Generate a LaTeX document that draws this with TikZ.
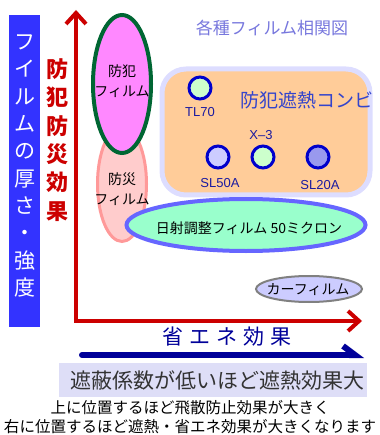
\documentclass[tikz,border=0pt]{standalone}
\usepackage{fontspec}
\setmainfont{Noto Sans CJK JP}
\newfontfamily\latinfont{Liberation Sans}
\usetikzlibrary{positioning}
\usetikzlibrary{arrows.meta, shapes.geometric}

\definecolor{axisred}{HTML}{CC0000}
\definecolor{thickblue}{HTML}{3333FF}
\definecolor{navyarrow}{HTML}{000099}
\definecolor{dotblue}{HTML}{0000CC}
\definecolor{labelblue}{HTML}{1A1AA0}
\definecolor{titleblue}{HTML}{7777DD}
\definecolor{combiblue}{HTML}{3344CC}
\definecolor{peach}{HTML}{FFCC99}
\definecolor{lavender}{HTML}{DDDDFF}
\definecolor{magentafill}{HTML}{FF88FF}
\definecolor{darkgreen}{HTML}{006633}
\definecolor{pinkfill}{HTML}{FFCCCC}
\definecolor{pinkline}{HTML}{FF9999}
\definecolor{mint}{HTML}{99FFCC}
\definecolor{mintline}{HTML}{6666FF}
\definecolor{carfill}{HTML}{CCCCFF}
\definecolor{noteback}{HTML}{DEDEF7}
\definecolor{lightdot}{HTML}{CCFFCC}
\definecolor{darkdot}{HTML}{9999EE}

\tikzset{
  dot/.style={circle, draw=dotblue, line width=3pt, minimum size=22pt, inner sep=0pt},
  dotlabel/.style={font=\latinfont\fontsize{13}{13}\selectfont, text=labelblue, inner sep=0pt},
  filmtext/.style={font=\fontsize{14}{20}\selectfont, align=center, inner sep=0pt},
}

\begin{document}
\begin{tikzpicture}[x=1pt, y=-1pt]
       \useasboundingbox (0,0) rectangle (379,435);

       % left side bar
       \fill[thickblue] (9,15) rectangle (40,327);
       \node[text=white, align=center, font=\fontsize{21}{27.3}\selectfont, inner sep=0pt] (thickness) at (24.5,166)
              {フ\\イ\\ル\\ム\\の\\厚\\さ\\・\\強\\度};

       % axes
       \coordinate (origin) at (76,321);
       \coordinate (ytip) at (76,10);
       \coordinate (xtip) at (362,321);
       \draw[axisred, line width=4pt, line join=miter,
              {Straight Barb[length=11pt, width=20pt, line width=4pt]}-{Straight Barb[length=11pt, width=20pt, line width=4pt]}]
              (ytip) -- (origin) -- (xtip);
       \node[text=axisred, align=center, font=\bfseries\fontsize{22}{28.3}\selectfont, inner sep=0pt] (safety) at (57,140)
              {防\\犯\\防\\災\\効\\果};

       % title
       \node[text=titleblue, font=\fontsize{17}{17}\selectfont, inner sep=0pt] (title) at (272,28) {各種フィルム相関図};

       % combi group
       \draw[fill=peach, draw=lavender, line width=5pt, rounded corners=24pt] (162,69) rectangle (370,195);
       \node[anchor=west, text=combiblue, font=\fontsize{19}{19}\selectfont, inner sep=0pt] (combi) at (240,100) {防犯遮熱コンビ};

       \node[dot, fill=lightdot] (tl70) at (200,88) {};
       \node[dotlabel] (tl70label) at (200,112) {TL70};
       \node[dot, fill=carfill] (sl50a) at (218,157) {};
       \node[dotlabel] (sl50alabel) at (220,183) {SL50A};
       \node[dot, fill=lightdot] (x3) at (263,157) {};
       \node[dotlabel] (x3label) at (261,135) {X–3};
       \node[dot, fill=darkdot] (sl20a) at (318,157) {};
       \node[dotlabel] (sl20alabel) at (320,185) {SL20A};

       % films
       \node[ellipse, draw=pinkline, fill=pinkfill, line width=3pt,
              minimum width=49pt, minimum height=115pt, inner sep=0pt] (bousai) at (122,184) {};
       \node[filmtext] (bousaitext) at (122,189) {防災\\フィルム};
       \node[ellipse, draw=darkgreen, fill=magentafill, line width=4pt,
              minimum width=58pt, minimum height=138pt, inner sep=0pt] (bouhan) at (122,84) {};
       \node[filmtext] (bouhantext) at (122,81) {防犯\\フィルム};
       \node[ellipse, draw=mintline, fill=mint, line width=4pt,
              minimum width=239pt, minimum height=52pt, inner sep=0pt] (nissha) at (246,225) {};
       \node[filmtext] (nisshatext) at (249,228) {日射調整フィルム 50ミクロン};
       \node[ellipse, draw=gray, fill=carfill, line width=2pt,
              minimum width=106pt, minimum height=26pt, inner sep=0pt] (car) at (309,289) {};
       \node[filmtext] (cartext) at (308,290) {カーフィルム};

       % energy axis
       \node[text=navyarrow, font=\fontsize{21}{21}\selectfont, inner sep=0pt] (energy) at (227,337)
              {省\hspace{6pt}エ\hspace{6pt}ネ\hspace{6pt}効\hspace{6pt}果};
       \coordinate (navystart) at (82,355);
       \coordinate (navytip) at (364,355);
       \draw[navyarrow, line width=6pt, line cap=round,
              -{Straight Barb[harpoon, length=12pt, width=18pt, line width=6pt]}] (navystart) -- (navytip);

       % notes
       \fill[noteback] (59,363) rectangle (367,397);
       \node[text=black!80, font=\fontsize{21}{21}\selectfont, inner sep=0pt] (shading) at (217,380) {遮蔽係数が低いほど遮熱効果大};
       \node[font=\fontsize{15.5}{15.5}\selectfont, inner sep=0pt] (noteone) at (190,408) {上に位置するほど飛散防止効果が大きく};
       \node[font=\fontsize{15.5}{15.5}\selectfont, inner sep=0pt] (notetwo) at (190,427) {右に位置するほど遮熱・省エネ効果が大きくなります};
\end{tikzpicture}
\end{document}
